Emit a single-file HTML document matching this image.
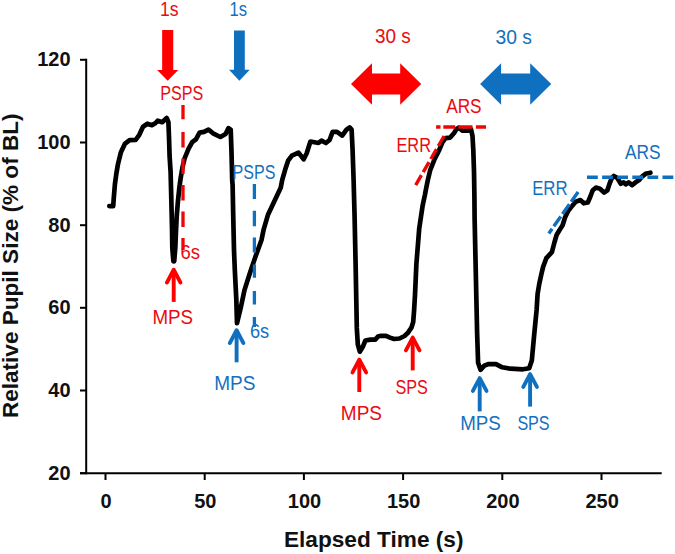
<!DOCTYPE html>
<html lang="en"><head><meta charset="utf-8"><title>Relative Pupil Size vs Elapsed Time</title>
<style>html,body{margin:0;padding:0;background:#fff;overflow:hidden;}svg{display:block;}text{font-family:"Liberation Sans","DejaVu Sans",sans-serif;}.ax{font-weight:bold;fill:#111;}.r{fill:#ea0a10;}.b{fill:#1470be;}</style></head><body>
<svg width="675" height="554" viewBox="0 0 675 554">
<rect width="675" height="554" fill="#ffffff"/>
<g stroke="#000" stroke-width="2" fill="none" stroke-linecap="butt">
<path d="M86.2,58.8 V474.3"/>
<path d="M80,473.3 H661.7"/>
<path d="M80,473.2 H86.2"/>
<path d="M80,390.5 H86.2"/>
<path d="M80,307.8 H86.2"/>
<path d="M80,225.2 H86.2"/>
<path d="M80,142.5 H86.2"/>
<path d="M80,59.8 H86.2"/>
<path d="M105.5,473.3 V480"/>
<path d="M204.7,473.3 V480"/>
<path d="M303.9,473.3 V480"/>
<path d="M403.1,473.3 V480"/>
<path d="M502.3,473.3 V480"/>
<path d="M601.5,473.3 V480"/>
</g>
<g class="ax" font-size="20">
<text x="70.6" y="479.8" text-anchor="end">20</text>
<text x="70.6" y="397.1" text-anchor="end">40</text>
<text x="70.6" y="314.4" text-anchor="end">60</text>
<text x="70.6" y="231.8" text-anchor="end">80</text>
<text x="70.6" y="149.1" text-anchor="end">100</text>
<text x="70.6" y="66.4" text-anchor="end">120</text>
<text x="106.1" y="507.5" text-anchor="middle">0</text>
<text x="205.3" y="507.5" text-anchor="middle">50</text>
<text x="304.5" y="507.5" text-anchor="middle">100</text>
<text x="403.7" y="507.5" text-anchor="middle">150</text>
<text x="502.9" y="507.5" text-anchor="middle">200</text>
<text x="602.1" y="507.5" text-anchor="middle">250</text>
</g>
<text class="ax" font-size="22.3" x="373.7" y="546.9" text-anchor="middle" textLength="179.6" lengthAdjust="spacingAndGlyphs">Elapsed Time (s)</text>
<text class="ax" font-size="22.2" transform="translate(18.1,265.8) rotate(-90)" text-anchor="middle" textLength="304.6" lengthAdjust="spacingAndGlyphs">Relative Pupil Size (% of BL)</text>
<polyline points="109.3,206.1 113.2,206.1 113.7,199.0 114.9,184.4 116.3,174.0 117.9,164.5 120.8,152.6 124.8,143.9 129.6,140.2 135.6,140.0 139.3,134.8 143.0,126.7 147.4,123.7 151.9,125.2 155.6,123.0 157.8,120.7 162.2,122.2 166.7,118.0 168.4,122.2 169.0,137.0 169.6,156.3 170.6,172.0 171.3,198.9 172.0,227.8 172.3,248.0 173.4,261.3 174.2,261.3 175.3,248.0 175.9,233.6 176.7,216.2 177.9,201.8 179.4,187.3 180.6,178.5 182.6,166.7 184.8,157.8 188.5,148.9 192.2,142.2 195.9,139.3 199.6,132.6 204.0,131.9 208.5,129.6 213.0,133.3 220.4,137.0 225.6,134.0 228.5,128.1 230.7,129.6 231.5,151.9 232.2,180.0 232.6,184.8 233.3,218.9 234.0,250.0 234.8,269.6 236.3,299.3 237.0,323.2 240.7,308.0 244.4,290.4 249.6,274.0 255.6,256.3 261.5,240.0 263.7,229.3 268.1,214.4 274.0,201.9 280.7,187.8 282.2,180.0 285.2,169.6 288.1,160.7 291.9,155.6 298.5,152.6 303.7,159.3 306.7,153.3 310.4,141.5 318.5,143.0 321.5,140.7 325.9,143.0 329.6,140.0 332.6,131.9 337.0,131.9 342.2,135.6 346.5,129.6 349.6,127.4 351.6,129.6 352.6,150.4 353.6,180.0 354.6,217.0 355.6,263.9 356.3,300.0 356.8,327.9 357.8,344.3 359.8,351.7 362.8,346.8 365.4,340.5 370.4,339.6 375.3,339.6 378.0,336.5 381.0,335.8 386.0,335.8 390.0,337.6 394.1,339.0 399.5,338.5 404.5,336.0 407.7,333.1 411.4,327.7 413.2,322.0 414.1,310.2 415.0,295.0 416.4,263.9 419.2,228.7 422.7,205.2 424.9,195.0 425.9,189.6 427.9,179.7 430.3,169.8 434.3,159.8 439.3,149.9 442.4,142.4 445.6,138.2 450.2,137.6 454.1,133.0 456.4,129.2 458.7,127.6 462.5,130.7 467.9,130.7 471.0,129.2 472.5,136.1 473.3,149.9 474.0,171.3 474.4,195.0 474.6,218.1 475.5,259.3 476.4,300.0 477.1,332.5 478.1,362.8 480.5,369.8 484.6,365.4 488.8,364.1 496.0,364.1 502.2,367.3 510.5,368.7 523.0,369.3 529.2,368.3 531.8,360.6 534.4,332.5 536.6,310.0 537.6,293.9 539.4,283.2 541.2,275.0 543.1,266.9 546.3,258.2 551.9,252.2 554.4,242.5 556.6,235.0 559.4,230.2 562.6,225.3 565.1,217.2 568.3,210.7 571.6,206.6 575.7,201.7 580.5,200.1 583.8,203.3 587.8,202.5 590.3,196.8 592.7,190.3 596.0,187.6 600.0,188.7 604.1,192.6 607.4,190.3 609.8,183.0 612.0,177.6 613.8,175.9 617.3,178.0 620.8,183.7 623.7,182.3 625.8,184.4 628.6,182.3 632.1,185.1 635.6,182.3 639.2,180.1 642.0,176.6 645.5,173.8 650.4,172.7" fill="none" stroke="#000" stroke-width="4.7" stroke-linejoin="round" stroke-linecap="round"/>
<path d="M183.0,105.0 L183.0,119.3 M183.0,131.9 L183.0,147.4 M183.0,158.5 L183.0,174.0 M183.0,185.0 L183.0,200.5 M183.0,211.5 L183.0,227.0 M183.0,238.0 L183.0,250.0" fill="none" stroke="#ee0505" stroke-width="3.3"/>
<path d="M254.4,184.0 L254.4,198.9 M254.4,210.7 L254.4,226.3 M254.4,237.4 L254.4,252.5 M254.4,264.4 L254.4,277.8 M254.4,291.0 L254.4,304.4 M254.4,317.0 L254.4,327.0" fill="none" stroke="#0f70c0" stroke-width="3.3"/>
<path d="M415.7,185.2 L421.4,175.2 M423.2,172.1 L429.0,162.2 M430.8,159.0 L436.5,149.1 M438.3,146.0 L444.1,136.0" fill="none" stroke="#ee0505" stroke-width="3.4"/>
<path d="M436.1,127.1 L440.5,127.1 M443.3,127.1 L455.3,127.1 M458.3,127.1 L472.5,127.1 M475.9,127.1 L486.0,127.1" fill="none" stroke="#ee0505" stroke-width="3.5"/>
<path d="M578.1,192.0 L571.2,201.8 M569.4,204.2 L562.5,214.0 M560.8,216.5 L553.8,226.3 M552.1,228.7 L548.8,233.4" fill="none" stroke="#0f70c0" stroke-width="3.4"/>
<path d="M587.0,177.3 L597.8,177.3 M602.1,177.3 L612.9,177.3 M617.2,177.3 L628.0,177.3 M632.3,177.3 L643.1,177.3 M647.4,177.3 L658.2,177.3 M662.5,177.3 L673.3,177.3" fill="none" stroke="#0f70c0" stroke-width="3.5"/>
<path fill="#fe0000" d="M162.14999999999998,30.1 H173.25 V70.0 H178.29999999999998 L167.7,80.7 L157.1,70.0 H162.14999999999998 Z"/>
<path fill="#0f70c0" d="M234.0,30.4 H244.8 V69.8 H249.8 L239.4,80.8 L229.0,69.8 H234.0 Z"/>
<path fill="#fe0000" d="M351,84 L372,63.2 V73.4 H400.2 V63.2 L421.2,84 L400.2,104.8 V94.6 H372 V104.8 Z"/>
<path fill="#0f70c0" d="M480.1,84 L501.1,63.2 V73.4 H530.2 V63.2 L551.2,84 L530.2,104.8 V94.6 H501.1 V104.8 Z"/>
<g fill="none" stroke="#fe0000" stroke-width="3.9"><path d="M173.7,301.9 V270.75" stroke-linecap="butt"/><path d="M166.89999999999998,282.55 L173.7,269.75 L180.5,282.55" stroke-linecap="round" stroke-linejoin="round"/></g>
<g fill="none" stroke="#0f70c0" stroke-width="3.9"><path d="M236.6,362.3 V331.25" stroke-linecap="butt"/><path d="M229.79999999999998,343.05 L236.6,330.25 L243.4,343.05" stroke-linecap="round" stroke-linejoin="round"/></g>
<g fill="none" stroke="#fe0000" stroke-width="3.9"><path d="M359.3,392 V360.65" stroke-linecap="butt"/><path d="M352.5,372.45 L359.3,359.65 L366.1,372.45" stroke-linecap="round" stroke-linejoin="round"/></g>
<g fill="none" stroke="#fe0000" stroke-width="3.9"><path d="M412.7,370.4 V338.55" stroke-linecap="butt"/><path d="M405.9,350.35 L412.7,337.55 L419.5,350.35" stroke-linecap="round" stroke-linejoin="round"/></g>
<g fill="none" stroke="#0f70c0" stroke-width="3.9"><path d="M479.7,411.4 V379.15" stroke-linecap="butt"/><path d="M472.9,390.95 L479.7,378.15 L486.5,390.95" stroke-linecap="round" stroke-linejoin="round"/></g>
<g fill="none" stroke="#0f70c0" stroke-width="3.9"><path d="M530.1,406.6 V375.15" stroke-linecap="butt"/><path d="M523.3000000000001,386.95 L530.1,374.15 L536.9,386.95" stroke-linecap="round" stroke-linejoin="round"/></g>
<text class="r" font-size="19.4" x="160.0" y="15.8" text-anchor="start" textLength="18.6" lengthAdjust="spacingAndGlyphs">1s</text>
<text class="b" font-size="19.4" x="229.6" y="15.8" text-anchor="start" textLength="17.6" lengthAdjust="spacingAndGlyphs">1s</text>
<text class="r" font-size="19.4" x="375.0" y="43.1" text-anchor="start" textLength="35.8" lengthAdjust="spacingAndGlyphs">30 s</text>
<text class="b" font-size="19.4" x="495.6" y="44.2" text-anchor="start" textLength="36.4" lengthAdjust="spacingAndGlyphs">30 s</text>
<text class="r" font-size="19.4" x="160.2" y="100.1" text-anchor="start" textLength="43.0" lengthAdjust="spacingAndGlyphs">PSPS</text>
<text class="b" font-size="19.4" x="232.6" y="179" text-anchor="start" textLength="42.8" lengthAdjust="spacingAndGlyphs">PSPS</text>
<text class="r" font-size="19.4" x="180.5" y="258.6" text-anchor="start" textLength="19.6" lengthAdjust="spacingAndGlyphs">6s</text>
<text class="b" font-size="19.4" x="249.9" y="338.4" text-anchor="start" textLength="19.2" lengthAdjust="spacingAndGlyphs">6s</text>
<text class="r" font-size="19.4" x="152.4" y="323.8" text-anchor="start" textLength="40.6" lengthAdjust="spacingAndGlyphs">MPS</text>
<text class="b" font-size="19.4" x="214.2" y="389.6" text-anchor="start" textLength="41.2" lengthAdjust="spacingAndGlyphs">MPS</text>
<text class="r" font-size="19.4" x="340.8" y="419.6" text-anchor="start" textLength="41.2" lengthAdjust="spacingAndGlyphs">MPS</text>
<text class="r" font-size="19.4" x="395.4" y="394" text-anchor="start" textLength="32.4" lengthAdjust="spacingAndGlyphs">SPS</text>
<text class="b" font-size="19.4" x="460.2" y="429.5" text-anchor="start" textLength="40.6" lengthAdjust="spacingAndGlyphs">MPS</text>
<text class="b" font-size="19.4" x="517.4" y="429.5" text-anchor="start" textLength="32.2" lengthAdjust="spacingAndGlyphs">SPS</text>
<text class="r" font-size="19.4" x="446.2" y="112.6" text-anchor="start" textLength="35.4" lengthAdjust="spacingAndGlyphs">ARS</text>
<text class="r" font-size="19.4" x="396.4" y="151.7" text-anchor="start" textLength="34.6" lengthAdjust="spacingAndGlyphs">ERR</text>
<text class="b" font-size="19.4" x="625.0" y="159" text-anchor="start" textLength="35.6" lengthAdjust="spacingAndGlyphs">ARS</text>
<text class="b" font-size="19.4" x="532.2" y="195.2" text-anchor="start" textLength="35.4" lengthAdjust="spacingAndGlyphs">ERR</text>
</svg></body></html>
